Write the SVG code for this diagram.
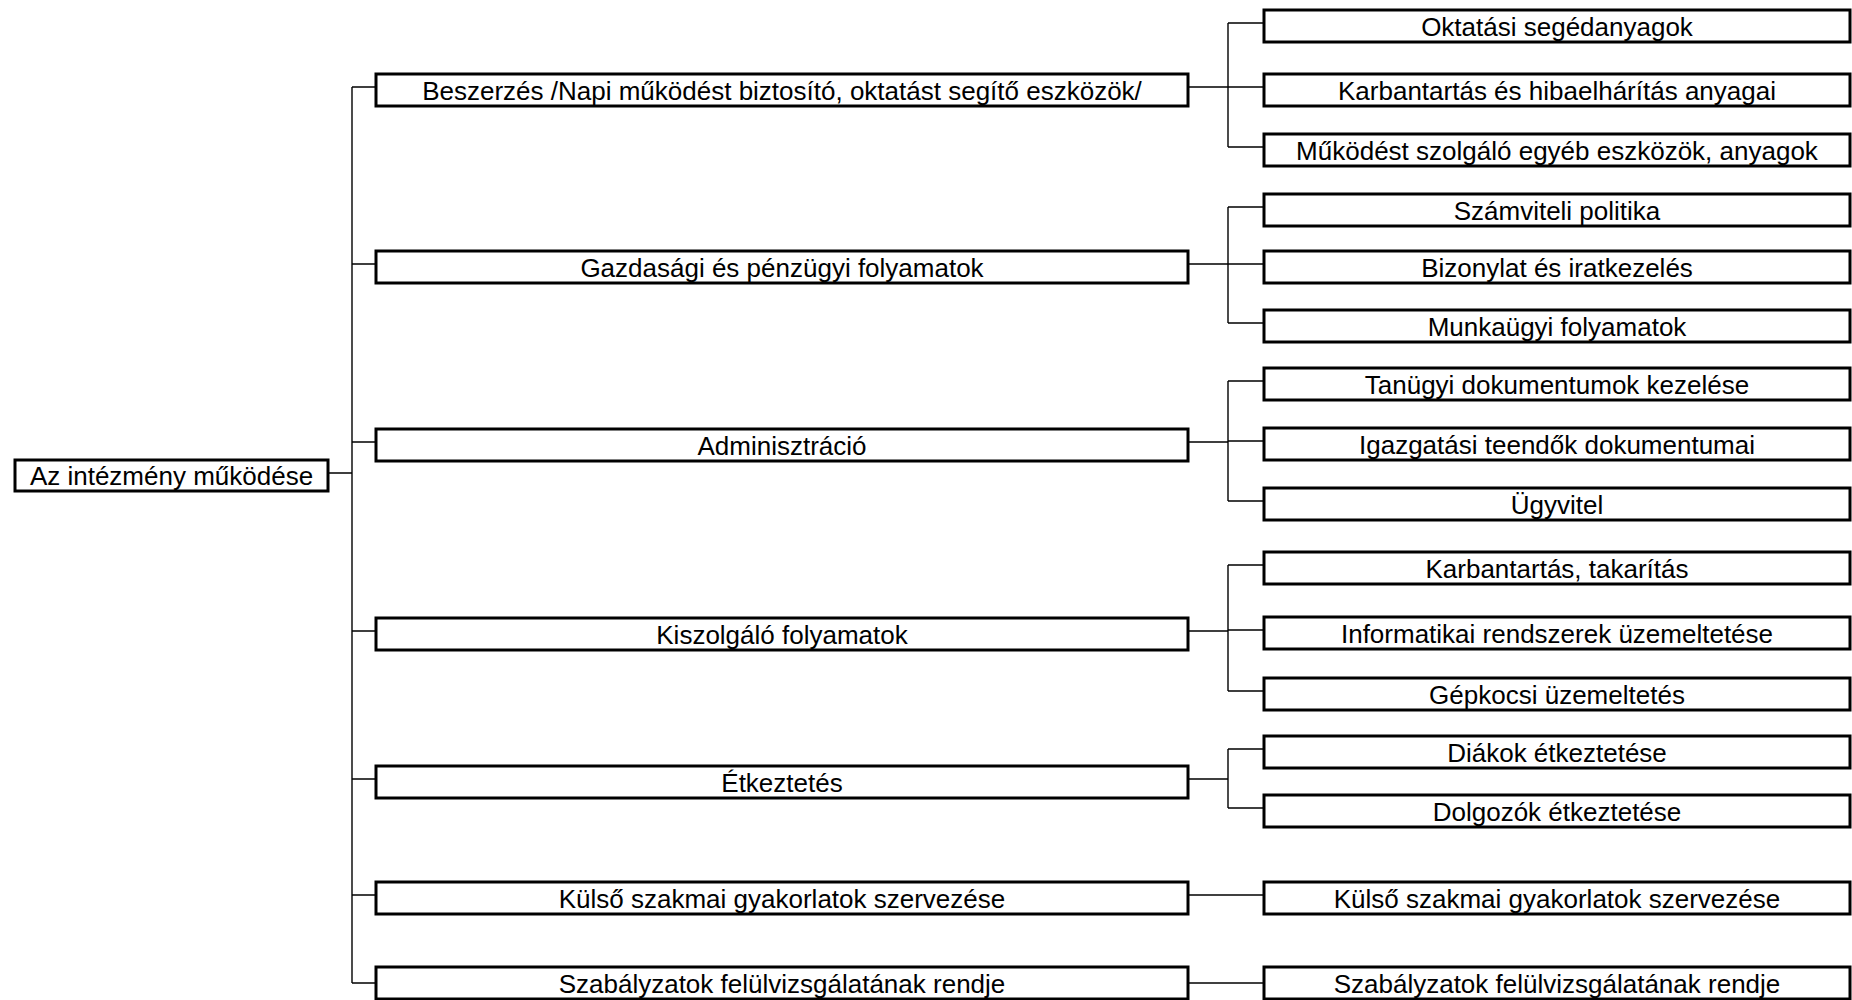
<svg xmlns="http://www.w3.org/2000/svg" width="1852" height="1000" viewBox="0 0 1852 1000">
<style>
.box{fill:#fff;stroke:#000;stroke-width:3}
.t{font-family:"Liberation Sans",Arial,sans-serif;font-size:26px;fill:#000;text-anchor:middle}
.c{fill:none;stroke:#000;stroke-width:1.4}
</style>
<rect width="1852" height="1000" fill="#fff"/>
<g id="connectors">
<path class="c" d="M328,473H352M352,87V983M352,87H376M352,264H376M352,442H376M352,631H376M352,779H376M352,895H376M352,983H376"/>
<path class="c" d="M1188,87H1228M1228,23V147M1228,23H1264M1228,87H1264M1228,147H1264"/>
<path class="c" d="M1188,264H1228M1228,207V323M1228,207H1264M1228,264H1264M1228,323H1264"/>
<path class="c" d="M1188,442H1228M1228,381V501M1228,381H1264M1228,441H1264M1228,501H1264"/>
<path class="c" d="M1188,631H1228M1228,565V691M1228,565H1264M1228,630H1264M1228,691H1264"/>
<path class="c" d="M1188,779H1228M1228,749V808M1228,749H1264M1228,808H1264"/>
<path class="c" d="M1188,895H1264"/>
<path class="c" d="M1188,983H1264"/>
</g>
<g id="root"><rect class="box" x="15" y="460" width="313" height="31"/><text class="t" x="171.5" y="485">Az intézmény működése</text></g>
<g id="l1-beszerzes"><rect class="box" x="376" y="74" width="812" height="32"/><text class="t" x="782" y="100">Beszerzés /Napi működést biztosító, oktatást segítő eszközök/</text></g>
<g id="l1-gazdasagi"><rect class="box" x="376" y="251" width="812" height="32"/><text class="t" x="782" y="277">Gazdasági és pénzügyi folyamatok</text></g>
<g id="l1-adminisztracio"><rect class="box" x="376" y="429" width="812" height="32"/><text class="t" x="782" y="455">Adminisztráció</text></g>
<g id="l1-kiszolgalo"><rect class="box" x="376" y="618" width="812" height="32"/><text class="t" x="782" y="644">Kiszolgáló folyamatok</text></g>
<g id="l1-etkeztetes"><rect class="box" x="376" y="766" width="812" height="32"/><text class="t" x="782" y="792">Étkeztetés</text></g>
<g id="l1-kulso"><rect class="box" x="376" y="882" width="812" height="32"/><text class="t" x="782" y="908">Külső szakmai gyakorlatok szervezése</text></g>
<g id="l1-szabalyzatok"><rect class="box" x="376" y="967" width="812" height="32"/><text class="t" x="782" y="993">Szabályzatok felülvizsgálatának rendje</text></g>
<g id="l2-oktatasi"><rect class="box" x="1264" y="10" width="586" height="32"/><text class="t" x="1557" y="36">Oktatási segédanyagok</text></g>
<g id="l2-karbantartas-hiba"><rect class="box" x="1264" y="74" width="586" height="32"/><text class="t" x="1557" y="100">Karbantartás és hibaelhárítás anyagai</text></g>
<g id="l2-mukodest"><rect class="box" x="1264" y="134" width="586" height="32"/><text class="t" x="1557" y="160">Működést szolgáló egyéb eszközök, anyagok</text></g>
<g id="l2-szamviteli"><rect class="box" x="1264" y="194" width="586" height="32"/><text class="t" x="1557" y="220">Számviteli politika</text></g>
<g id="l2-bizonylat"><rect class="box" x="1264" y="251" width="586" height="32"/><text class="t" x="1557" y="277">Bizonylat és iratkezelés</text></g>
<g id="l2-munkaugyi"><rect class="box" x="1264" y="310" width="586" height="32"/><text class="t" x="1557" y="336">Munkaügyi folyamatok</text></g>
<g id="l2-tanugyi"><rect class="box" x="1264" y="368" width="586" height="32"/><text class="t" x="1557" y="394">Tanügyi dokumentumok kezelése</text></g>
<g id="l2-igazgatasi"><rect class="box" x="1264" y="428" width="586" height="32"/><text class="t" x="1557" y="454">Igazgatási teendők dokumentumai</text></g>
<g id="l2-ugyvitel"><rect class="box" x="1264" y="488" width="586" height="32"/><text class="t" x="1557" y="514">Ügyvitel</text></g>
<g id="l2-karbantartas-takaritas"><rect class="box" x="1264" y="552" width="586" height="32"/><text class="t" x="1557" y="578">Karbantartás, takarítás</text></g>
<g id="l2-informatikai"><rect class="box" x="1264" y="617" width="586" height="32"/><text class="t" x="1557" y="643">Informatikai rendszerek üzemeltetése</text></g>
<g id="l2-gepkocsi"><rect class="box" x="1264" y="678" width="586" height="32"/><text class="t" x="1557" y="704">Gépkocsi üzemeltetés</text></g>
<g id="l2-diakok"><rect class="box" x="1264" y="736" width="586" height="32"/><text class="t" x="1557" y="762">Diákok étkeztetése</text></g>
<g id="l2-dolgozok"><rect class="box" x="1264" y="795" width="586" height="32"/><text class="t" x="1557" y="821">Dolgozók étkeztetése</text></g>
<g id="l2-kulso"><rect class="box" x="1264" y="882" width="586" height="32"/><text class="t" x="1557" y="908">Külső szakmai gyakorlatok szervezése</text></g>
<g id="l2-szabalyzatok"><rect class="box" x="1264" y="967" width="586" height="32"/><text class="t" x="1557" y="993">Szabályzatok felülvizsgálatának rendje</text></g>
</svg>
